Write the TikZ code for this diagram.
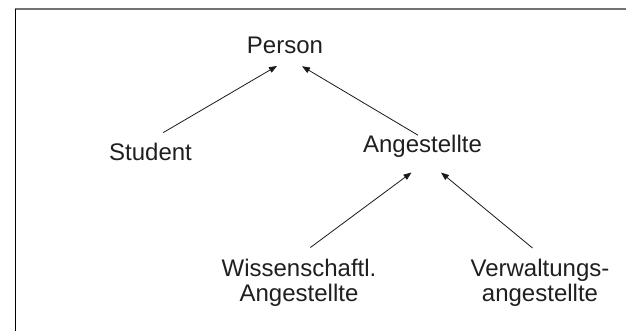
\documentclass[tikz,border=0pt]{standalone}
\usepackage{fontspec}
\setmainfont{Liberation Sans}
\usetikzlibrary{arrows.meta}
\begin{document}
\begin{tikzpicture}[x=1pt,y=-1pt,
  label/.style={inner sep=0pt,outer sep=0pt,text=black!88,
    font=\fontsize{24}{25}\selectfont},
  inherit/.style={draw=black!90,line width=0.8pt,
    -{Triangle[length=8pt,width=6pt]}},
  frametop/.style={draw=black!55,line width=1.7pt},
  frameleft/.style={draw=black,line width=1.3pt}]
  \useasboundingbox (0,0) rectangle (627,331);
  % open frame: top and left edges only
  \coordinate (fa) at (626,9);
  \coordinate (fb) at (15.3,9);
  \coordinate (fc) at (15.3,331);
  \draw[frametop] (fa) -- (fb);
  \draw[frameleft] (fb) -- (fc);
  % class names
  \node[label,anchor=base] (person) at (285,53.3) {Person};
  \node[label,anchor=base] (student) at (150.5,161) {Student};
  \node[label,anchor=base] (ang) at (422.5,152.7) {Angestellte};
  \node[label,anchor=north,align=center] (wiss) at (299,259.5) {Wissenschaftl.\\Angestellte};
  \node[label,anchor=north,align=center] (verw) at (540,259.5) {Verwaltungs-\\angestellte};
  % generalisation arrows
  \draw[inherit] ([xshift=12.7pt,yshift=11pt]student.north) -- ([xshift=-8pt,yshift=-12.4pt]person.south);
  \draw[inherit] ([xshift=-4.5pt,yshift=17.5pt]ang.base) -- ([xshift=17pt,yshift=-12.7pt]person.south);
  \draw[inherit] ([xshift=11.4pt,yshift=12pt]wiss.north) -- ([xshift=-11pt,yshift=-19.8pt]ang.base);
  \draw[inherit] ([xshift=-7.5pt,yshift=11.5pt]verw.north) -- ([xshift=18.5pt,yshift=-19.8pt]ang.base);
\end{tikzpicture}
\end{document}
